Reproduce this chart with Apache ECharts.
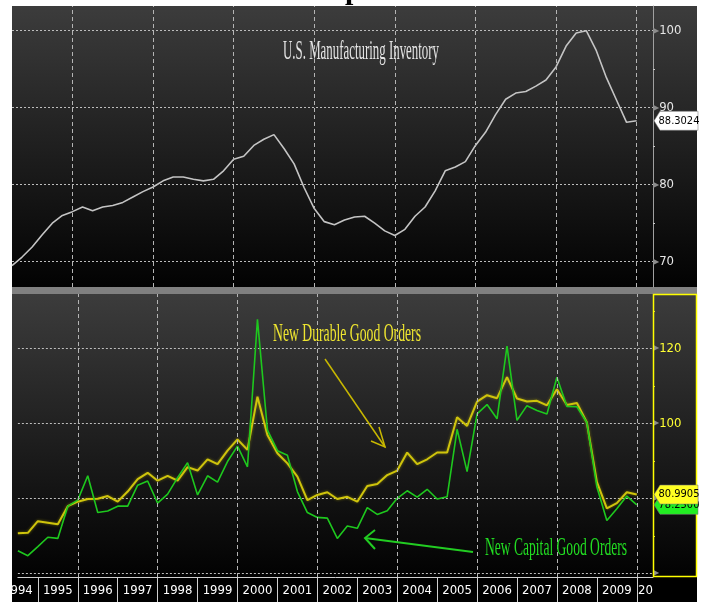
<!DOCTYPE html>
<html>
<head>
<meta charset="utf-8">
<script src="https://cdn.jsdelivr.net/npm/echarts@6/dist/echarts.min.js"></script>
<style>html,body{margin:0;padding:0;background:#fff;}#c{width:703px;height:602px;}</style>
</head>
<body>
<div id="c"></div>
<script>
// ---- data (quarterly, decimal years) ----
const quarters = [1994.5, 1994.75, 1995.0, 1995.25, 1995.5, 1995.75, 1996.0, 1996.25, 1996.5, 1996.75,
  1997.0, 1997.25, 1997.5, 1997.75, 1998.0, 1998.25, 1998.5, 1998.75, 1999.0, 1999.25,
  1999.5, 1999.75, 2000.0, 2000.25, 2000.5, 2000.75, 2001.0, 2001.25, 2001.5, 2001.75,
  2002.0, 2002.25, 2002.5, 2002.75, 2003.0, 2003.25, 2003.5, 2003.75, 2004.0, 2004.25,
  2004.5, 2004.75, 2005.0, 2005.25, 2005.5, 2005.75, 2006.0, 2006.25, 2006.5, 2006.75,
  2007.0, 2007.25, 2007.5, 2007.75, 2008.0, 2008.25, 2008.5, 2008.75, 2009.0, 2009.25,
  2009.5, 2009.75, 2010.0];
const inventory = [69.5, 70.6, 71.9, 73.5, 75.0, 76.0, 76.5, 77.1, 76.6, 77.1,
  77.3, 77.7, 78.4, 79.1, 79.7, 80.5, 81.0, 81.0, 80.7, 80.5,
  80.7, 81.8, 83.3, 83.7, 85.1, 85.9, 86.5, 84.7, 82.7, 79.6,
  76.9, 75.2, 74.8, 75.4, 75.8, 75.9, 75.0, 74.0, 73.4, 74.2,
  75.9, 77.1, 79.2, 81.8, 82.3, 83.0, 85.1, 86.8, 89.1, 91.1,
  91.9, 92.1, 92.8, 93.6, 95.3, 98.0, 99.7, 100.0, 97.4, 93.9,
  91.0, 88.1, 88.3024];
const durableOrders = [70.7, 70.8, 73.9, 73.5, 73.1, 77.9, 79.1, 79.8, 79.9, 80.6,
  79.1, 81.8, 85.1, 86.8, 84.7, 86.0, 84.7, 88.3, 87.4, 90.4,
  89.1, 92.7, 95.7, 92.9, 107.1, 96.9, 92.0, 89.3, 85.8, 79.5,
  80.9, 81.6, 79.8, 80.4, 79.1, 83.3, 83.8, 86.2, 87.4, 92.2,
  89.1, 90.4, 92.2, 92.2, 101.6, 99.3, 105.8, 107.5, 106.7, 112.3,
  106.6, 105.8, 106.0, 104.8, 109.1, 104.9, 105.4, 100.2, 84.4, 77.3,
  78.7, 81.6, 80.9905];
const capitalOrders = [66.0, 64.7, 67.1, 69.6, 69.3, 77.9, 79.5, 86.0, 76.2, 76.6,
  77.9, 77.9, 83.5, 84.6, 78.7, 81.1, 85.5, 89.5, 80.9, 86.0,
  84.3, 89.8, 93.9, 88.4, 127.7, 98.2, 92.7, 91.5, 81.8, 76.2,
  74.9, 74.7, 69.3, 72.6, 72.0, 77.5, 75.7, 76.7, 80.0, 82.0,
  80.3, 82.4, 79.8, 80.4, 98.4, 87.1, 102.5, 105.0, 101.2, 120.6,
  100.8, 104.7, 103.4, 102.5, 112.3, 104.5, 104.4, 100.2, 83.1, 74.1,
  77.2, 80.6, 78.25];
const yearLabels = [1994, 1995, 1996, 1997, 1998, 1999, 2000, 2001, 2002, 2003, 2004, 2005, 2006, 2007, 2008, 2009, 2010];
const yearBounds = [1995, 1996, 1997, 1998, 1999, 2000, 2001, 2002, 2003, 2004, 2005, 2006, 2007, 2008, 2009, 2010];
const gridYears = [1996, 1998, 2000, 2002, 2004, 2006, 2008, 2010];
const invTicks = [70, 80, 90, 100];
const invMinor = [75, 85, 95];
const ordTicks = [60, 80, 100, 120];
const ordMinor = [70, 90, 110, 130];
const titles = {
  inventory: 'U.S. Manufacturing Inventory',
  durable: 'New Durable Good Orders',
  capital: 'New Capital Good Orders'
};

// ---- layout ----
const xMin = 1994.5, xMax = 2010.406;
const NARROW = '"DejaVu Sans Condensed", "DejaVu Sans", sans-serif';
const SERIF = '"Liberation Serif", "DejaVu Serif", serif';

const chart = echarts.init(document.getElementById('c'), null, {renderer: 'canvas'});

const mctx = document.createElement('canvas').getContext('2d');
function narrowText(text, left, cy, width, size, color) {
  const font = size + 'px ' + SERIF;
  mctx.font = font;
  const w = mctx.measureText(text).width || width;
  return {type: 'text', x: left, y: cy, scaleX: width / w, silent: true, z: 50,
    style: {text: text, font: font, fill: color, align: 'left', verticalAlign: 'middle'}};
}

function tag(value, bg, fg) {
  return {
    coord: [xMax, value], value: value,
    symbol: 'path://M0,10L6,0L44,0L44,20L6,20Z', symbolKeepAspect: false,
    symbolSize: [44, 19], symbolOffset: [23, 0],
    itemStyle: {color: bg, borderColor: '#777', borderWidth: 0.5},
    label: {show: true, position: 'inside', offset: [3, 0], color: fg, fontSize: 11,
      fontFamily: NARROW, formatter: value.toFixed(4)}
  };
}

function vGrid() {
  return {silent: true, symbol: ['none', 'none'], label: {show: false}, emphasis: {disabled: true},
    lineStyle: {color: '#b4b4b4', type: [4, 3], width: 1},
    data: gridYears.map(y => ({xAxis: y}))};
}

function axisLab(color) {
  return {
    margin: 0,
    formatter: v => (v === 60 ? '{a|▶}' : '{a|▶}{b|' + v + '}'),
    rich: {
      a: {color: '#8c8c8c', fontSize: 8, fontFamily: 'DejaVu Sans', padding: [0, 0, 0, 0]},
      b: {color: color, fontSize: 13, fontFamily: NARROW}
    }
  };
}

const panelGrad = () => ({type: 'linear', x: 0, y: 0, x2: 0, y2: 1, colorStops: [
  {offset: 0, color: '#3c3c3c'}, {offset: 1, color: '#020202'}]});

const option = {
  animation: false,
  backgroundColor: '#ffffff',
  grid: [
    {left: 12, right: 50, top: 6, height: 281},
    {left: 12, right: 50, top: 294, height: 283}
  ],
  xAxis: [
    {gridIndex: 0, type: 'value', min: xMin, max: xMax, show: false},
    {gridIndex: 1, type: 'value', min: xMin, max: xMax,
      axisLine: {show: true, lineStyle: {color: '#d0d0d0', width: 1}},
      axisTick: {show: true, customValues: yearBounds, length: 25, lineStyle: {color: '#d0d0d0'}},
      axisLabel: {customValues: yearLabels.map(y => Math.min(y + 0.5, xMax - 0.001)),
        formatter: v => String(Math.floor(v)), color: '#ffffff', fontSize: 13, fontFamily: NARROW, margin: 7},
      splitLine: {show: false}}
  ],
  yAxis: [
    {gridIndex: 0, type: 'value', position: 'right', min: 66.71, max: 103.21,
      axisLine: {show: true, lineStyle: {color: '#a0a0a0'}},
      axisTick: {show: false, customValues: invTicks},
      splitLine: {show: true, lineStyle: {color: '#bdbdbd', type: [2, 2], width: 1}},
      axisLabel: Object.assign({customValues: invTicks}, axisLab('#e6e6e6'))},
    {gridIndex: 1, type: 'value', position: 'right', min: 59.01, max: 134.48,
      axisLine: {show: false},
      axisTick: {show: false, customValues: ordTicks},
      splitLine: {show: true, lineStyle: {color: '#bdbdbd', type: [2, 2], width: 1}},
      axisLabel: Object.assign({customValues: ordTicks}, axisLab('#ffff33'))},
    {gridIndex: 0, type: 'value', position: 'right', min: 66.71, max: 103.21,
      axisLine: {show: false}, axisLabel: {show: false}, splitLine: {show: false},
      axisTick: {show: true, customValues: invMinor, length: 2, lineStyle: {color: '#cccccc'}}},
    {gridIndex: 1, type: 'value', position: 'right', min: 59.01, max: 134.48,
      axisLine: {show: false}, axisLabel: {show: false}, splitLine: {show: false},
      axisTick: {show: true, customValues: ordMinor, length: 2, lineStyle: {color: '#dddd33'}}}
  ],
  series: [
    {name: titles.inventory, type: 'line', xAxisIndex: 0, yAxisIndex: 0, showSymbol: false, symbol: 'none',
      data: quarters.map((q, i) => [q, inventory[i]]),
      lineStyle: {color: '#c4c4c4', width: 1.6}, z: 3,
      markLine: vGrid(),
      markPoint: {silent: true, data: [tag(inventory[inventory.length - 1], '#ffffff', '#000000')]}},
    {name: titles.capital, type: 'line', xAxisIndex: 1, yAxisIndex: 1, showSymbol: false, symbol: 'none',
      data: quarters.map((q, i) => [q, capitalOrders[i]]),
      lineStyle: {color: '#1ec81e', width: 1.6}, z: 4,
      markLine: vGrid(),
      markPoint: {silent: true, data: [tag(capitalOrders[capitalOrders.length - 1], '#22ee22', '#000000')]}},
    {name: titles.durable, type: 'line', xAxisIndex: 1, yAxisIndex: 1, showSymbol: false, symbol: 'none',
      data: quarters.map((q, i) => [q, durableOrders[i]]),
      lineStyle: {color: '#cfc40c', width: 2, shadowColor: 'rgba(230,220,0,0.45)', shadowBlur: 3}, z: 3,
      markPoint: {silent: true, z: 10, data: [tag(durableOrders[durableOrders.length - 1], '#ffff22', '#000000')]}}
  ],
  graphic: {elements: [
    {type: 'rect', z: -100, silent: true, shape: {x: 12, y: 6, width: 685, height: 281}, style: {fill: panelGrad()}},
    {type: 'rect', z: -100, silent: true, shape: {x: 12, y: 287, width: 685, height: 7}, style: {fill: '#808080'}},
    {type: 'rect', z: -100, silent: true, shape: {x: 12, y: 294, width: 685, height: 283}, style: {fill: panelGrad()}},
    {type: 'rect', z: -100, silent: true, shape: {x: 12, y: 577, width: 685, height: 25}, style: {fill: '#000000'}},
    {type: 'rect', z: 100, silent: true, shape: {x: 654, y: 579, width: 43, height: 23}, style: {fill: '#000000'}},
    {type: 'rect', z: 100, silent: true, shape: {x: 0, y: 577, width: 12, height: 25}, style: {fill: '#ffffff'}},
    {type: 'rect', z: 1, silent: true, shape: {x: 653.5, y: 294.5, width: 43, height: 282}, style: {fill: 'none', stroke: '#ffff00', lineWidth: 1.5}},
    {type: 'text', z: 50, silent: true, x: 345, y: 6, style: {text: 'p', font: 'bold 30px ' + SERIF, fill: '#000', align: 'left', verticalAlign: 'bottom'}},
    narrowText(titles.inventory, 283, 51.5, 156, 28, '#e4e4e4'),
    narrowText(titles.durable, 273, 334, 148, 26, '#eee530'),
    narrowText(titles.capital, 485, 548, 142, 26, '#22dd22'),
    {type: 'polyline', z: 50, silent: true, shape: {points: [[325, 359], [385, 447]]}, style: {stroke: '#c8b800', lineWidth: 1.5}},
    {type: 'polyline', z: 50, silent: true, shape: {points: [[371, 441], [385, 447], [379, 427]]}, style: {stroke: '#c8b800', lineWidth: 1.5, fill: 'none'}},
    {type: 'polyline', z: 50, silent: true, shape: {points: [[473, 552], [365, 538]]}, style: {stroke: '#22cc22', lineWidth: 2}},
    {type: 'polyline', z: 50, silent: true, shape: {points: [[375, 530], [365, 538], [375, 549]]}, style: {stroke: '#22cc22', lineWidth: 2, fill: 'none'}}
  ]}
};
chart.setOption(option);
</script>
</body>
</html>
